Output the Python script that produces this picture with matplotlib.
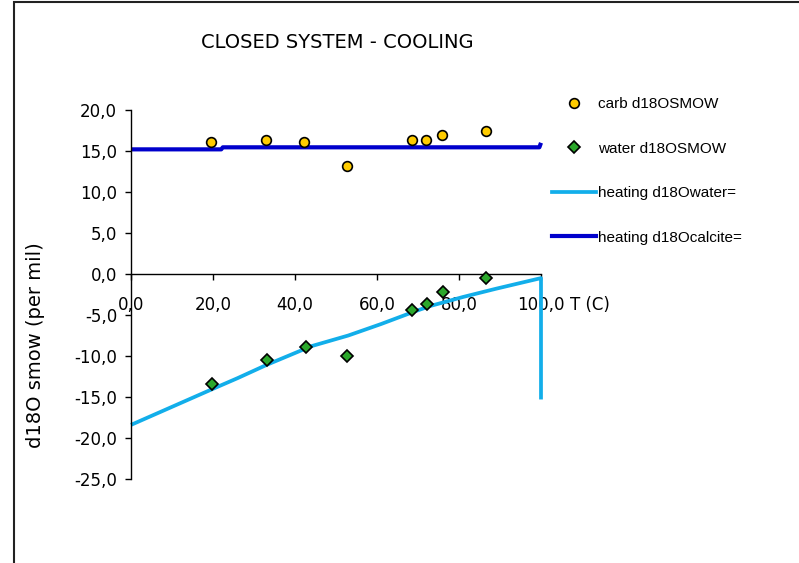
import matplotlib
matplotlib.use("Agg")
import matplotlib.pyplot as plt
from matplotlib.lines import Line2D
from matplotlib.patches import Rectangle
from matplotlib.ticker import FuncFormatter, MultipleLocator

# measured samples (T in C, d18O SMOW)
carb_T = [19.6, 33.0, 42.3, 52.7, 68.5, 72.0, 75.9, 86.6]
carb_d18O = [16.1, 16.3, 16.1, 13.2, 16.3, 16.3, 17.0, 17.4]

water_T = [19.7, 33.1, 42.6, 52.8, 68.6, 72.1, 76.0, 86.7]
water_d18O = [-13.4, -10.5, -8.9, -10.0, -4.4, -3.7, -2.2, -0.5]

# model curves
heat_water_T = [0, 10, 20, 26, 33, 44, 53, 61, 69, 73, 81, 89, 100, 100]
heat_water_d18O = [-18.4, -16.2, -14.0, -12.7, -11.1, -8.8, -7.5, -6.1,
                   -4.6, -3.9, -2.8, -1.8, -0.5, -15.3]

heat_calc_T = [0, 22.0, 22.4, 99.6, 100]
heat_calc_d18O = [15.2, 15.2, 15.45, 15.45, 16.0]

light_blue = "#12AEEA"
dark_blue = "#0000CC"

fig = plt.figure(figsize=(7.99, 5.63), dpi=100)
ax = fig.add_axes([131 / 799, 1 - 479 / 563, 410 / 799, 369 / 563])

ax.plot(heat_water_T, heat_water_d18O, color=light_blue, lw=2.7,
        solid_capstyle="butt", clip_on=False, zorder=2)
ax.plot(heat_calc_T, heat_calc_d18O, color=dark_blue, lw=3.0,
        solid_capstyle="butt", clip_on=False, zorder=2)
ax.plot(carb_T, carb_d18O, "o", ms=7, mfc="#FFCC00", mec="black", mew=1.2,
        zorder=3, clip_on=False)
ax.plot(water_T, water_d18O, "D", ms=6.5, mfc="#2CA82C", mec="black", mew=1.2,
        zorder=3, clip_on=False)

ax.set_xlim(0, 100)
ax.set_ylim(-25, 20)
ax.xaxis.set_major_locator(MultipleLocator(20))
ax.yaxis.set_major_locator(MultipleLocator(5))
fmt = FuncFormatter(lambda v, p: f"{v:.1f}".replace(".", ","))
ax.xaxis.set_major_formatter(fmt)
ax.yaxis.set_major_formatter(fmt)

ax.spines["top"].set_visible(False)
ax.spines["right"].set_visible(False)
ax.spines["bottom"].set_position(("data", 0))
for s in ("left", "bottom"):
    ax.spines[s].set_linewidth(1.0)
    ax.spines[s].set_color("black")
ax.tick_params(axis="both", direction="out", length=4, width=1, labelsize=12)
ax.tick_params(axis="x", pad=12)
ax.tick_params(axis="y", pad=6)

fig.text(337 / 799, 1 - 43 / 563, "CLOSED SYSTEM - COOLING", fontsize=14,
         ha="center", va="center")
fig.text(590 / 799, 1 - 305 / 563, "T (C)", fontsize=12, ha="center", va="center")
fig.text(36 / 799, 1 - 345 / 563, "d18O smow (per mil)", fontsize=14,
         rotation=90, ha="center", va="center")

handles = [
    Line2D([], [], ls="none", marker="o", ms=7, mfc="#FFCC00", mec="black", mew=1.2),
    Line2D([], [], ls="none", marker="D", ms=6.5, mfc="#2CA82C", mec="black", mew=1.2),
    Line2D([], [], color=light_blue, lw=2.7),
    Line2D([], [], color=dark_blue, lw=3.0),
]
labels = ["carb d18OSMOW", "water d18OSMOW", "heating d18Owater=", "heating d18Ocalcite="]
fig.legend(handles, labels, loc="upper left", bbox_to_anchor=(552 / 799, 1 - 97 / 563),
           frameon=False, borderpad=0, borderaxespad=0, handlelength=2.9,
           handletextpad=0.1, labelspacing=2.0,
           prop={"family": ["Liberation Sans Narrow", "Liberation Sans"], "size": 11})

# outer chart frame (runs off the right and bottom edge)
fig.patches.append(Rectangle((14 / 799, -0.2), 1.2, 1.2 - 1.5 / 563, fill=False,
                             lw=1.5, edgecolor="#222222", transform=fig.transFigure))

fig.savefig("out.png", dpi=100)
